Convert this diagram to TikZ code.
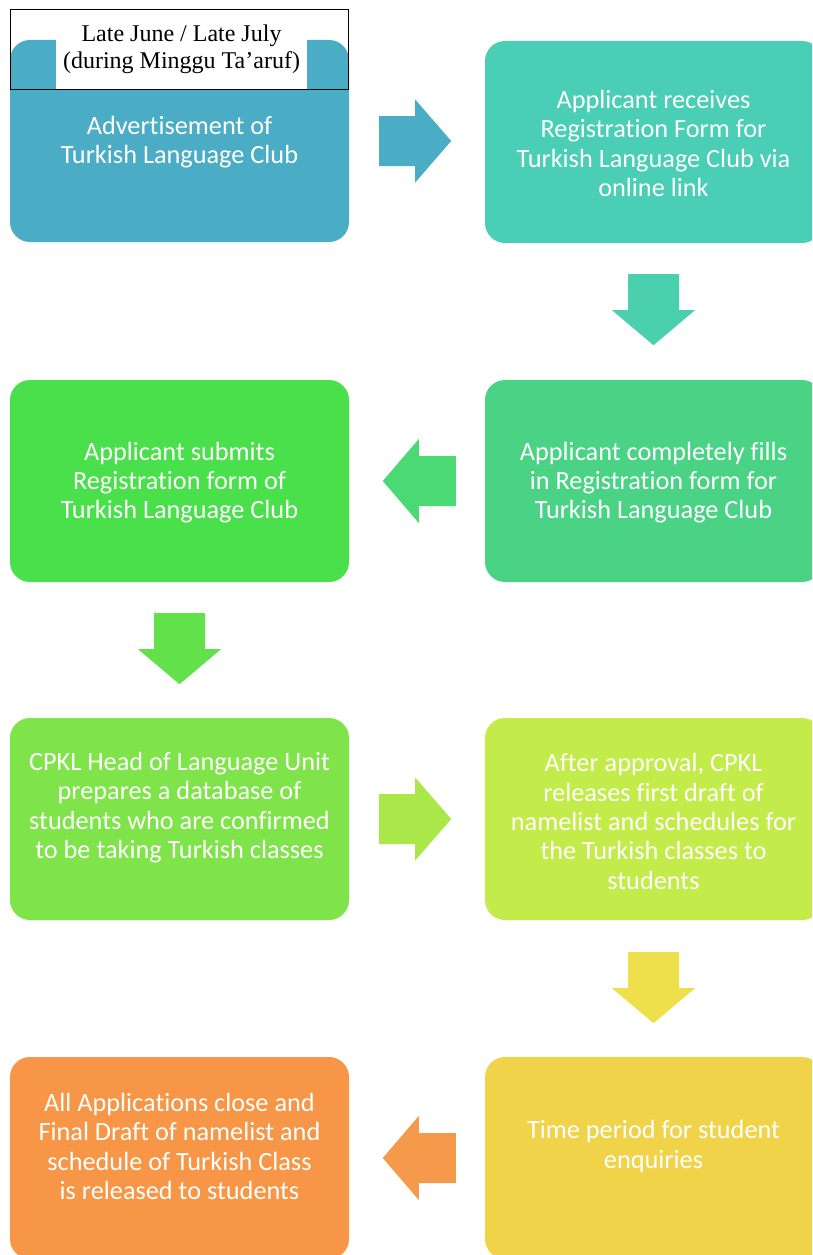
\documentclass[tikz,border=0pt]{standalone}
\usepackage{fontspec}
\setmainfont{Carlito}[Ligatures={NoCommon}]
\newfontfamily\timesfont{Liberation Serif}
\usetikzlibrary{calc}

\definecolor{cA}{HTML}{4BACC6}
\definecolor{cB}{HTML}{4ACEB6}
\definecolor{cBa}{HTML}{4ACFAF}
\definecolor{cC}{HTML}{4AD385}
\definecolor{cCa}{HTML}{4AD972}
\definecolor{cD}{HTML}{4AE04B}
\definecolor{cDa}{HTML}{62E14B}
\definecolor{cE}{HTML}{7FE34A}
\definecolor{cEa}{HTML}{AAE84A}
\definecolor{cF}{HTML}{C3EB4A}
\definecolor{cFa}{HTML}{EEE04A}
\definecolor{cG}{HTML}{F1D34A}
\definecolor{cGa}{HTML}{F59A4A}
\definecolor{cH}{HTML}{F79646}

\tikzset{
  stage/.style={rounded corners=20pt, minimum height=202pt, inner sep=0pt, draw=none},
  leftstage/.style={stage, minimum width=339pt},
  rightstage/.style={stage, minimum width=337pt},
  stagetext/.style={text=white, align=center, inner sep=0pt, yshift=-1.5pt,
    font=\fontsize{26.3}{29.3}\selectfont},
  rightarrow/.pic={\fill[pic actions] (0,-25) -- (36,-25) -- (36,-41.5) -- (72,0)
      -- (36,41.5) -- (36,25) -- (0,25) -- cycle;},
  leftarrow/.pic={\fill[pic actions] (0,-25) -- (-37,-25) -- (-37,-42) -- (-73,0)
      -- (-37,42) -- (-37,25) -- (0,25) -- cycle;},
  downarrow/.pic={\fill[pic actions] (-25.5,0) -- (25.5,0) -- (25.5,36) -- (41.5,36)
      -- (0,71) -- (-41.5,36) -- (-25.5,36) -- cycle;},
}

\begin{document}
\begin{tikzpicture}[x=1pt,y=-1pt]
\path[use as bounding box] (0,0) rectangle (812,1255);
\clip (0,0) rectangle (812,1255);

% stage boxes
\node[leftstage,  fill=cA] (advert)  at (179.5,141)  {};
\node[rightstage, fill=cB] (receive) at (653.5,142)  {};
\node[rightstage, fill=cC] (fillin)  at (653.5,481)  {};
\node[leftstage,  fill=cD] (submit)  at (179.5,481)  {};
\node[leftstage,  fill=cE] (dbase)   at (179.5,819)  {};
\node[rightstage, fill=cF] (release) at (653.5,819)  {};
\node[rightstage, fill=cG] (enquiry) at (653.5,1158) {};
\node[leftstage,  fill=cH] (final)   at (179.5,1158) {};

% stage texts
\node[stagetext] at ($(advert.center)+(0,-0.5)$) {Advertisement of\\Turkish Language Club};
\node[stagetext] at (receive.center) {Applicant receives\\Registration Form for\\Turkish Language Club via\\online link};
\node[stagetext] at (fillin.center) {Applicant completely fills\\in Registration form for\\Turkish Language Club};
\node[stagetext] at (submit.center) {Applicant submits\\Registration form of\\Turkish Language Club};
\node[stagetext] at ($(dbase.center)+(0,-13)$) {CPKL Head of Language Unit\\prepares a database of\\students who are confirmed\\to be taking Turkish classes};
\node[stagetext] at ($(release.center)+(0,1)$) {After approval, CPKL\\releases first draft of\\namelist and schedules for\\the Turkish classes to\\students};
\node[stagetext] at ($(enquiry.center)+(0,-13)$) {Time period for student\\enquiries};
\node[stagetext] at ($(final.center)+(0,-13)$) {All Applications close and\\Final Draft of namelist and\\schedule of Turkish Class\\is released to students};

% block arrows between the stages
\pic[fill=cA]  at ($(advert.east)+(30,0)$)   {rightarrow};
\pic[fill=cBa] at ($(receive.south)+(0,31)$) {downarrow};
\pic[fill=cCa] at ($(fillin.west)+(-29,0)$)  {leftarrow};
\pic[fill=cDa] at ($(submit.south)+(0,31)$)  {downarrow};
\pic[fill=cEa] at ($(dbase.east)+(30,0)$)    {rightarrow};
\pic[fill=cFa] at ($(release.south)+(0,32)$) {downarrow};
\pic[fill=cGa] at ($(enquiry.west)+(-29,0)$) {leftarrow};

% date label over the first stage
\node[fill=white, minimum width=251pt, minimum height=79pt, inner sep=0pt] (datebg) at (181.5,49.5) {};
\node[draw=black, line width=1pt, minimum width=338pt, minimum height=79pt, inner sep=0pt] (dateframe) at (179,49.5) {};
\node[align=center, inner sep=0pt, font=\timesfont\fontsize{24}{27}\selectfont] (date) at (datebg.center)
  {Late June / Late July\\(during Minggu Ta’aruf)};
\end{tikzpicture}
\end{document}
